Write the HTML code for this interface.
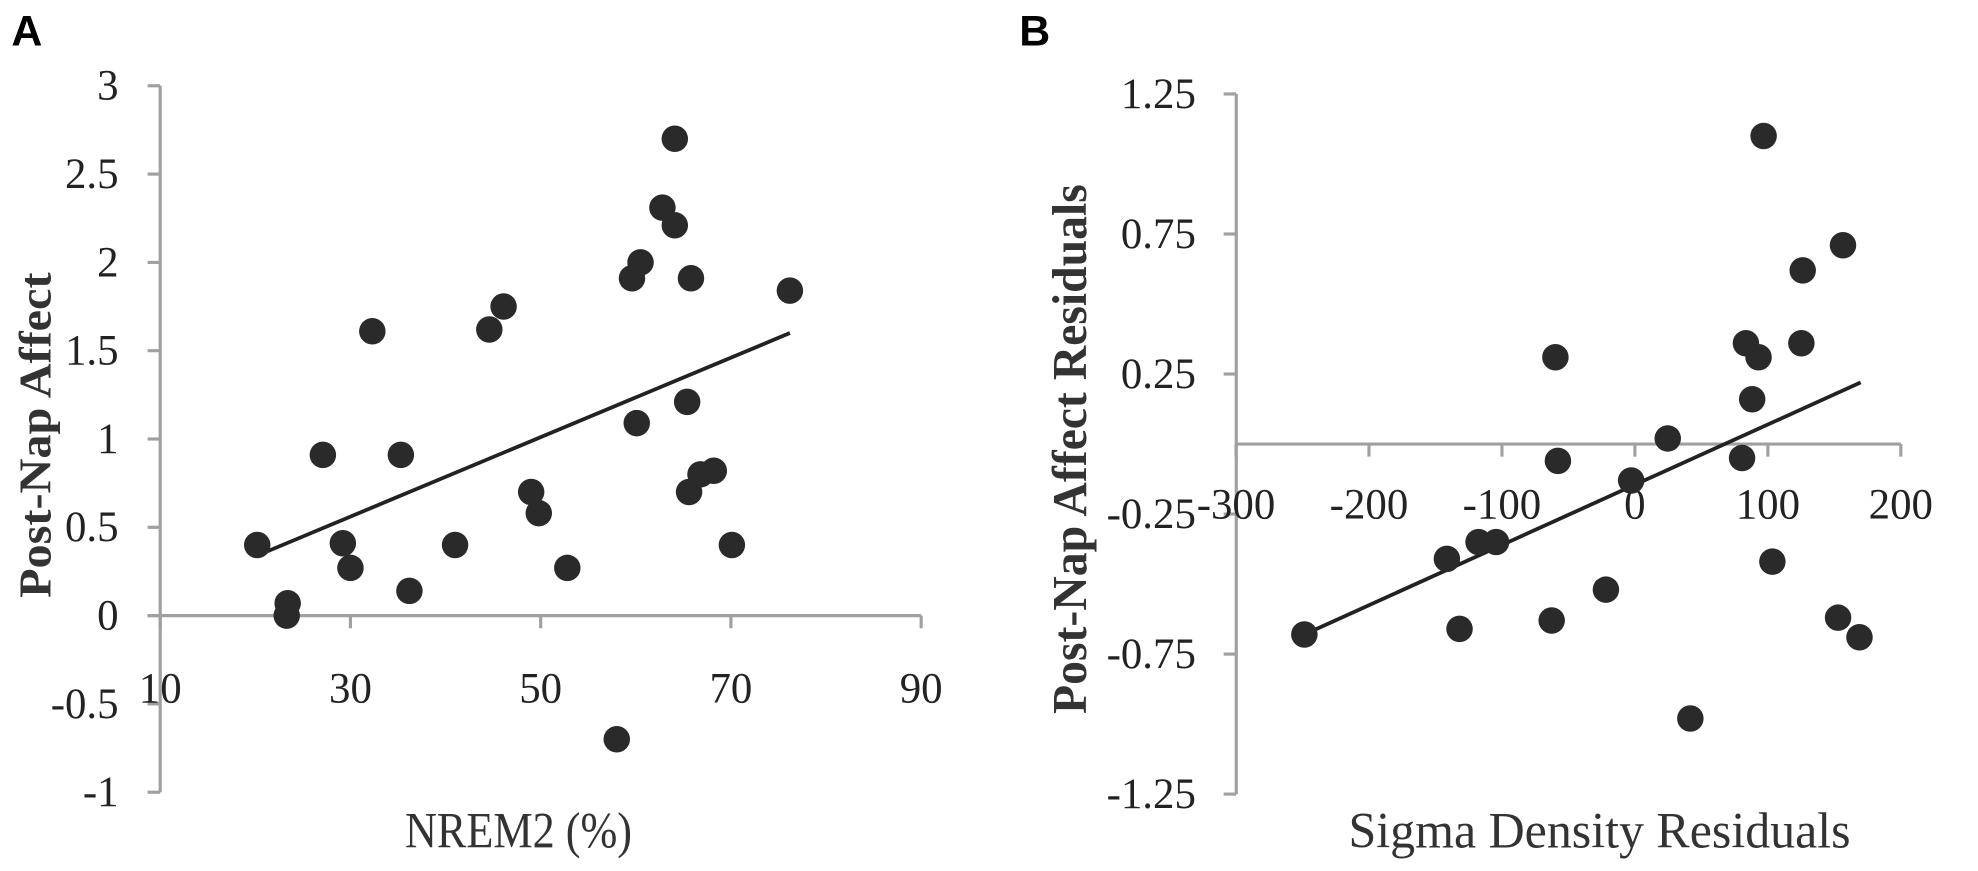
<!DOCTYPE html>
<html><head><meta charset="utf-8"><style>
html,body{margin:0;padding:0;background:#fff;}
svg{display:block;font-family:"Liberation Serif",serif;}
</style></head><body>
<svg width="1978" height="871"><g id="chart" transform="scale(1.2615)"></g></svg>
<script>
const aX=[20.2,23.3,23.4,27.1,29.2,30.0,32.3,35.3,36.2,41.0,44.6,46.1,49.0,49.8,52.8,58.0,59.6,60.1,60.5,62.8,64.1,64.1,65.4,65.6,65.8,66.8,68.2,70.1,76.2];
const aY=[0.40,0.0,0.07,0.91,0.41,0.27,1.61,0.91,0.14,0.40,1.62,1.75,0.70,0.58,0.27,-0.70,1.91,1.09,2.0,2.31,2.70,2.21,1.21,0.70,1.91,0.80,0.82,0.40,1.84];
const aTrendX=[20.2,76.2];
const aTrendY=[0.34,1.60];
const aXTicks=["10","30","50","70","90"];
const aYTicks=["-1","-0.5","0","0.5","1","1.5","2","2.5","3"];
const bX=[-248.6,-141.4,-131.9,-117.6,-104.4,-59.8,-57.9,-62.6,-21.8,-2.8,24.7,41.7,80.6,83.5,88.2,93,96.8,103.4,125.2,126.2,152.8,156.5,168.9];
const bY=[-0.68,-0.41,-0.66,-0.35,-0.35,0.31,-0.06,-0.63,-0.52,-0.13,0.02,-0.98,-0.05,0.36,0.16,0.31,1.10,-0.42,0.36,0.62,-0.62,0.71,-0.69];
const bTrendX=[-248.6,169.8];
const bTrendY=[-0.68,0.22];
const bXTicks=["-300","-200","-100","0","100","200"];
const bYTicks=["-1.25","-0.75","-0.25","0.25","0.75","1.25"];

const svg=document.getElementById('chart');
const NS='http://www.w3.org/2000/svg';
function mk(tag,attrs,parent){const e=document.createElementNS(NS,tag);for(const k in attrs)e.setAttribute(k,attrs[k]);(parent||svg).appendChild(e);return e;}
function txt(s,attrs,parent){const e=mk('text',attrs,parent);e.textContent=s;return e;}
const AX='#a0a0a0', TF=34, R=10.5;

const axA=v=>127+(v-10)*7.54;
const ayA=v=>488-v*140;
const gA=mk('g',{});


let t=txt('A',{x:9,y:36,'font-family':'Liberation Sans, sans-serif','font-weight':'bold','font-size':34,fill:'#000'},gA);

let l=mk('line',{x1:127,y1:ayA(3),x2:127,y2:ayA(-1),stroke:AX,'stroke-width':2.5},gA);

l=mk('line',{x1:117,y1:488,x2:axA(90),y2:488,stroke:AX,'stroke-width':2.5},gA);

aYTicks.forEach(s=>{const v=parseFloat(s);const y=ayA(v);
 const k=mk('line',{x1:117,y1:y,x2:127,y2:y,stroke:AX,'stroke-width':2.5},gA);
 
 const e=txt(s,{x:94,y:y+11,'text-anchor':'end','font-size':TF,fill:'#222'},gA);
 });
aXTicks.forEach(s=>{const v=parseFloat(s);const x=axA(v);
 const k=mk('line',{x1:x,y1:488,x2:x,y2:498,stroke:AX,'stroke-width':2.5},gA);
 
 const e=txt(s,{x:x,y:557,'text-anchor':'middle','font-size':TF,fill:'#222'},gA);
 });
l=mk('line',{x1:axA(aTrendX[0]),y1:ayA(aTrendY[0]),x2:axA(aTrendX[1]),y2:ayA(aTrendY[1]),stroke:'#222','stroke-width':3},gA);

aX.forEach((v,i)=>{const c=mk('circle',{cx:axA(v),cy:ayA(aY[i]),r:R,fill:'#2a2a2a'},gA);
 });
t=txt('NREM2 (%)',{x:411,y:672,'text-anchor':'middle','font-size':40,fill:'#333',textLength:180,lengthAdjust:'spacingAndGlyphs'},gA);

t=txt('Post-Nap Affect',{x:0,y:0,transform:'translate(40,345) rotate(-90)','text-anchor':'middle','font-size':36,'font-weight':'bold',fill:'#333',textLength:258,lengthAdjust:'spacingAndGlyphs'},gA);


const axB=v=>1296+v*1.054;
const ayB=v=>352-v*222;
const gB=mk('g',{});


t=txt('B',{x:808,y:36,'font-family':'Liberation Sans, sans-serif','font-weight':'bold','font-size':34,fill:'#000'},gB);

l=mk('line',{x1:980,y1:ayB(1.25),x2:980,y2:ayB(-1.25),stroke:AX,'stroke-width':2.5},gB);

l=mk('line',{x1:980,y1:352,x2:axB(200),y2:352,stroke:AX,'stroke-width':2.5},gB);

bYTicks.forEach(s=>{const v=parseFloat(s);const y=ayB(v);
 const k=mk('line',{x1:970,y1:y,x2:980,y2:y,stroke:AX,'stroke-width':2.5},gB);
 
 const e=txt(s,{x:948,y:y+11,'text-anchor':'end','font-size':TF,fill:'#222'},gB);
 });
bXTicks.forEach(s=>{const v=parseFloat(s);const x=axB(v);
 const k=mk('line',{x1:x,y1:352,x2:x,y2:362,stroke:AX,'stroke-width':2.5},gB);
 
 const e=txt(s,{x:x,y:411,'text-anchor':'middle','font-size':TF,fill:'#222'},gB);
 });
l=mk('line',{x1:axB(bTrendX[0]),y1:ayB(bTrendY[0]),x2:axB(bTrendX[1]),y2:ayB(bTrendY[1]),stroke:'#222','stroke-width':3},gB);

bX.forEach((v,i)=>{const c=mk('circle',{cx:axB(v),cy:ayB(bY[i]),r:R,fill:'#2a2a2a'},gB);
 });
t=txt('Sigma Density Residuals',{x:1268,y:672,'text-anchor':'middle','font-size':40,fill:'#333',textLength:398,lengthAdjust:'spacingAndGlyphs'},gB);

t=txt('Post-Nap Affect Residuals',{x:0,y:0,transform:'translate(861,356) rotate(-90)','text-anchor':'middle','font-size':39,'font-weight':'bold',fill:'#333',textLength:420,lengthAdjust:'spacingAndGlyphs'},gB);

</script>
</body></html>
